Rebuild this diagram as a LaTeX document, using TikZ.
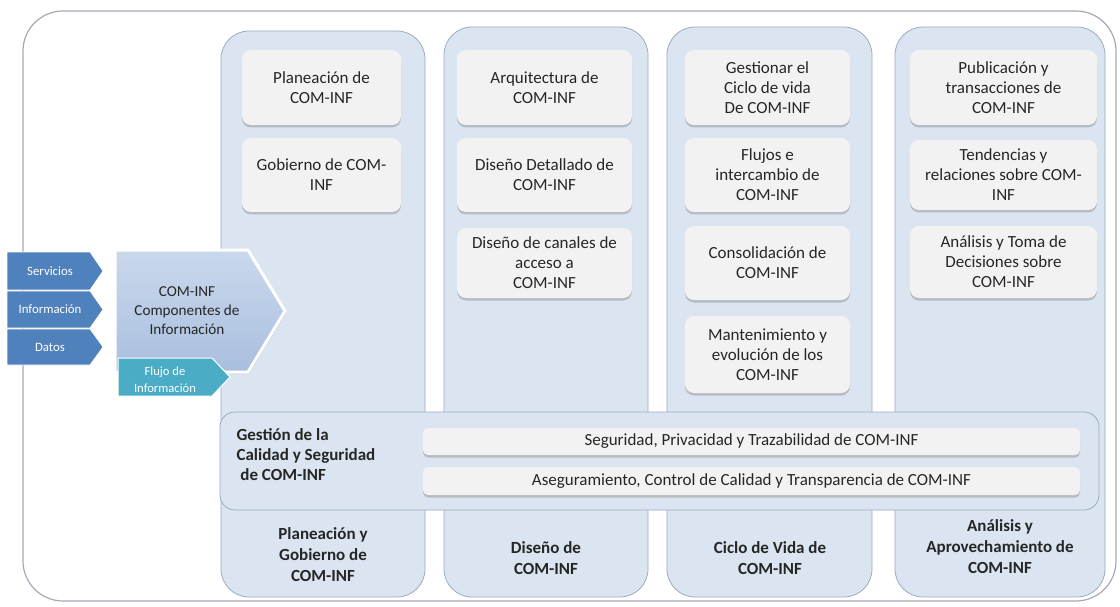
\documentclass[tikz,border=0pt]{standalone}
\usepackage{fontspec}
\setmainfont{Carlito}
\usetikzlibrary{shadows}

\definecolor{colfill}{HTML}{DBE5F1}
\definecolor{colline}{HTML}{9AABC4}
\definecolor{itemfill}{HTML}{F2F2F2}
\definecolor{tabblue}{HTML}{4F81BD}
\definecolor{bigtop}{HTML}{CAD8EC}
\definecolor{bigbottom}{HTML}{A9BFDF}
\definecolor{flowteal}{HTML}{4BACC6}
\definecolor{txt}{HTML}{262626}
\definecolor{frameline}{HTML}{A7A7B8}

\tikzset{
  col/.style={fill=colfill, draw=colline, line width=0.8pt, rounded corners=28pt},
  item/.style={fill=itemfill, rounded corners=9pt, inner sep=0pt, align=center,
    text=txt, font=\fontsize{17}{20}\selectfont,
    drop shadow={shadow xshift=0pt, shadow yshift=-2.5pt, opacity=0.4, fill=black!50}},
  foot/.style={align=center, text=txt, font=\bfseries\fontsize{17}{21}\selectfont},
  tab/.style={fill=tabblue, draw=white, line width=0.7pt},
  tabtext/.style={text=white, font=\fontsize{12.8}{14}\selectfont},
}

\begin{document}
\begin{tikzpicture}[x=1pt, y=-1pt]
\useasboundingbox (0,0) rectangle (1120,607);

% outer frame
\draw[frameline, line width=1.2pt, rounded corners=40pt] (23,11) rectangle (1116,601);

% columns
\draw[col] (221,31) rectangle (425,597);
\draw[col] (444,27) rectangle (648,597);
\draw[col] (667,27) rectangle (872,597);
\draw[col] (895,27) rectangle (1105,597);

% quality band
\draw[col, rounded corners=15pt] (220,412) rectangle (1099,510);
\node[item, rounded corners=5pt, minimum width=657pt, minimum height=27pt] (seg) at (751.5,441.5) {Seguridad, Privacidad y Trazabilidad de COM-INF};
\node[item, rounded corners=5pt, minimum width=657pt, minimum height=28pt] (ase) at (751.5,481) {Aseguramiento, Control de Calidad y Transparencia de COM-INF};
\node[text=txt, align=left, anchor=west, font=\bfseries\fontsize{17}{20}\selectfont] (gest) at (233,455) {Gestión de la\\Calidad y Seguridad\\\ de COM-INF};

% planeacion
\node[item, minimum width=159pt, minimum height=75pt] (plan) at (321.5,87.5) {Planeación de\\COM-INF};
\node[item, minimum width=159pt, minimum height=74pt] (gob) at (321.5,175) {Gobierno de COM-\\INF};

% diseno
\node[item, minimum width=175pt, minimum height=75pt] (arq) at (544.5,87.5) {Arquitectura de\\COM-INF};
\node[item, minimum width=175pt, minimum height=74pt] (det) at (544.5,175) {Diseño Detallado de\\COM-INF};
\node[item, minimum width=175pt, minimum height=70pt] (can) at (544.5,263) {Diseño de canales de\\acceso a\\COM-INF};

% ciclo de vida
\node[item, minimum width=165pt, minimum height=75pt] (ges) at (767.5,87.5) {Gestionar el\\Ciclo de vida\\De COM-INF};
\node[item, minimum width=165pt, minimum height=74pt] (flu) at (767.5,175) {Flujos e\\intercambio de\\COM-INF};
\node[item, minimum width=165pt, minimum height=74pt] (con) at (767.5,263) {Consolidación de\\COM-INF};
\node[item, minimum width=165pt, minimum height=77pt] (man) at (767.5,354.5) {Mantenimiento y\\evolución de los\\COM-INF};

% analisis
\node[item, minimum width=187pt, minimum height=75pt] (pub) at (1003.5,87.5) {Publicación y\\transacciones de\\COM-INF};
\node[item, minimum width=187pt, minimum height=70pt] (ten) at (1003.5,175) {Tendencias y\\relaciones sobre COM-\\INF};
\node[item, minimum width=187pt, minimum height=72pt] (ana) at (1003.5,262) {Análisis y Toma de\\Decisiones sobre\\COM-INF};

% column titles
\node[foot] (fplan) at (323,555) {Planeación y\\Gobierno de\\COM-INF};
\node[foot] (fdis) at (546,558) {Diseño de\\COM-INF};
\node[foot] (fcic) at (770,558) {Ciclo de Vida de\\COM-INF};
\node[foot] (fana) at (1000,547) {Análisis y\\Aprovechamiento de\\COM-INF};

% inputs
\foreach \name/\t/\b/\k in {Servicios/252/290/ser, Información/291/328/inf, Datos/329/365/dat} {
  \draw[tab] (7,\t) -- (90,\t) -- (103,{(\t+\b)/2}) -- (90,\b) -- (7,\b) -- cycle;
  \node[tabtext] (\k) at (50,{(\t+\b)/2}) {\name};
}

% COM-INF
\draw[white, line width=3pt, top color=bigtop, bottom color=bigbottom,
  drop shadow={shadow xshift=1pt, shadow yshift=-2pt, opacity=0.3, fill=black!50}]
  (115,250) -- (248,250) -- (285,311) -- (248,372) -- (115,372) -- cycle;
\node[align=center, text=txt, font=\fontsize{15.2}{19}\selectfont] (cominf) at (187,311) {COM-INF\\Componentes de\\Información};

% flujo
\draw[fill=flowteal, draw=white, line width=1pt] (118,358) -- (212,358) -- (230,377) -- (212,396) -- (118,396) -- cycle;
\node[align=center, text=white, font=\fontsize{12.6}{17}\selectfont] (flujo) at (165,380) {Flujo de\\Información};
\end{tikzpicture}
\end{document}
